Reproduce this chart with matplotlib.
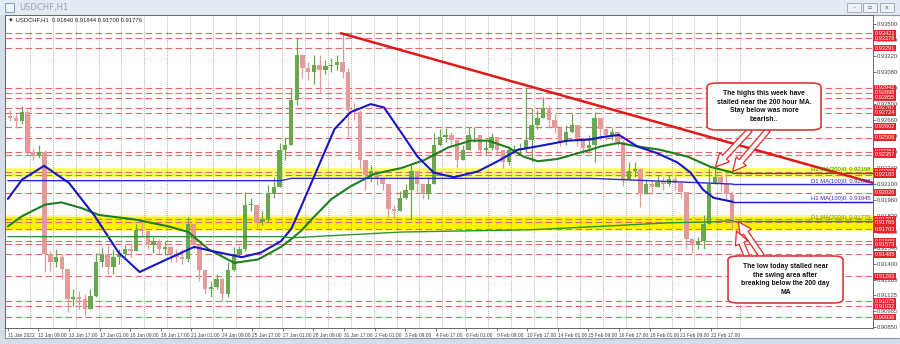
import numpy as np
import matplotlib
matplotlib.use("Agg")
import matplotlib.pyplot as plt
from matplotlib.patches import Rectangle, FancyBboxPatch
from matplotlib import transforms

# USDCHF H1, 11 Jan 2022 - 23 Feb 2022, drawn as one candle per 6 hourly bars
GROUP = 6
first_open = 0.9270
closes = [
    0.9268, 0.9265, 0.9273, 0.9238, 0.9235, 0.9238, 0.9149, 0.9142, 0.9146, 0.9136,
    0.9109, 0.9111, 0.9109, 0.9101, 0.9112, 0.9142, 0.9149, 0.9137, 0.9146, 0.9149,
    0.9153, 0.9151, 0.9170, 0.9169, 0.9157, 0.9160, 0.9153, 0.9155, 0.9149, 0.9146,
    0.9144, 0.9175, 0.9157, 0.9135, 0.9118, 0.9120, 0.9127, 0.9114, 0.9135, 0.9149,
    0.9153, 0.9192, 0.9192, 0.9177, 0.9179, 0.9201, 0.9207, 0.9240, 0.9244, 0.9284,
    0.9323, 0.9312, 0.9308, 0.9314, 0.9310, 0.9313, 0.9314, 0.9317, 0.9308, 0.9275,
    0.9273, 0.9231, 0.9218, 0.9221, 0.9214, 0.9210, 0.9188, 0.9186, 0.9198, 0.9205,
    0.9221, 0.9210, 0.9201, 0.9210, 0.9244, 0.9251, 0.9253, 0.9249, 0.9231, 0.9240,
    0.9253, 0.9253, 0.9240, 0.9242, 0.9251, 0.9240, 0.9229, 0.9240, 0.9240, 0.9242,
    0.9249, 0.9262, 0.9268, 0.9277, 0.9266, 0.9259, 0.9247, 0.9256, 0.9262, 0.9249,
    0.9242, 0.9244, 0.9268, 0.9258, 0.9253, 0.9256, 0.9247, 0.9214, 0.9221, 0.9223,
    0.9201, 0.9210, 0.9207, 0.9212, 0.9210, 0.9214, 0.9211, 0.9203, 0.9162, 0.9157,
    0.9160, 0.9175, 0.9210, 0.9216, 0.9210, 0.9201, 0.91776,
]
highs = [
    0.9275, 0.9271, 0.9278, 0.9275, 0.9242, 0.9244, 0.9240, 0.9151, 0.9153, 0.9149,
    0.9127, 0.9118, 0.9116, 0.9114, 0.9118, 0.9150, 0.9155, 0.9157, 0.9153, 0.9153,
    0.9157, 0.9157, 0.9175, 0.9177, 0.9170, 0.9164, 0.9162, 0.9160, 0.9156, 0.9153,
    0.9153, 0.9181, 0.9175, 0.9157, 0.9135, 0.9125, 0.9131, 0.9128, 0.9142, 0.9155,
    0.9156, 0.9203, 0.9198, 0.9192, 0.9186, 0.9209, 0.9216, 0.9246, 0.9251, 0.9294,
    0.9338, 0.9319, 0.9317, 0.9323, 0.9323, 0.9319, 0.9320, 0.9323, 0.9342, 0.9312,
    0.9281, 0.9275, 0.9231, 0.9227, 0.9221, 0.9216, 0.9210, 0.9192, 0.9204, 0.9210,
    0.9227, 0.9216, 0.9210, 0.9216, 0.9255, 0.9258, 0.9259, 0.9256, 0.9249, 0.9244,
    0.9260, 0.9260, 0.9249, 0.9249, 0.9255, 0.9251, 0.9240, 0.9243, 0.9244, 0.9246,
    0.9295, 0.9277, 0.9275, 0.9286, 0.9279, 0.9271, 0.9258, 0.9262, 0.9272, 0.9262,
    0.9251, 0.9253, 0.9273, 0.9266, 0.9259, 0.9259, 0.9253, 0.9249, 0.9229, 0.9229,
    0.9224, 0.9214, 0.9214, 0.9217, 0.9216, 0.9218, 0.9217, 0.9210, 0.9201, 0.9163,
    0.9164, 0.9183, 0.9224, 0.9223, 0.9218, 0.9221, 0.9204,
]
lows = [
    0.9265, 0.9259, 0.9263, 0.9236, 0.9231, 0.9233, 0.9133, 0.9134, 0.9137, 0.9127,
    0.9098, 0.9103, 0.9101, 0.9095, 0.9105, 0.9111, 0.9137, 0.9131, 0.9131, 0.9140,
    0.9146, 0.9146, 0.9153, 0.9164, 0.9153, 0.9150, 0.9149, 0.9148, 0.9142, 0.9142,
    0.9140, 0.9142, 0.9153, 0.9125, 0.9114, 0.9111, 0.9118, 0.9108, 0.9111, 0.9134,
    0.9146, 0.9151, 0.9186, 0.9172, 0.9174, 0.9177, 0.9198, 0.9207, 0.9231, 0.9244,
    0.9279, 0.9303, 0.9301, 0.9298, 0.9290, 0.9306, 0.9308, 0.9310, 0.9303, 0.9251,
    0.9266, 0.9223, 0.9205, 0.9212, 0.9209, 0.9205, 0.9181, 0.9179, 0.9188, 0.9197,
    0.9179, 0.9203, 0.9197, 0.9197, 0.9210, 0.9243, 0.9247, 0.9243, 0.9225, 0.9231,
    0.9240, 0.9247, 0.9236, 0.9236, 0.9240, 0.9236, 0.9224, 0.9227, 0.9236, 0.9236,
    0.9238, 0.9229, 0.9258, 0.9268, 0.9259, 0.9255, 0.9243, 0.9244, 0.9255, 0.9243,
    0.9236, 0.9237, 0.9229, 0.9249, 0.9249, 0.9249, 0.9243, 0.9208, 0.9214, 0.9216,
    0.9190, 0.9203, 0.9201, 0.9207, 0.9205, 0.9208, 0.9205, 0.9198, 0.9153, 0.9150,
    0.9153, 0.9153, 0.9175, 0.9210, 0.9204, 0.9197, 0.9170,
]

# moving averages (hourly bar index, price)
h1_ma100_bar = [0, 15, 38, 64, 91, 116, 138, 161, 182, 195, 216, 245, 265, 286, 297, 307, 325, 342, 359, 380,
                394, 412, 429, 446, 467, 492, 513, 534, 561, 586, 610, 621, 640, 659, 680, 701, 715, 728, 739, 759]
h1_ma100 = [0.9197, 0.9214, 0.9226, 0.9211, 0.9182, 0.9150, 0.9133, 0.9142, 0.9150, 0.9155,
            0.9151, 0.9146, 0.9150, 0.9160, 0.9171, 0.9190, 0.9225, 0.9258, 0.9273, 0.9280,
            0.9277, 0.9255, 0.9234, 0.9220, 0.9216, 0.9221, 0.9230, 0.9240, 0.9244, 0.9248,
            0.9249, 0.9251, 0.9253, 0.9243, 0.9237, 0.9229, 0.9220, 0.9205, 0.9198, 0.91945]
h1_ma200_bar = [0, 15, 39, 56, 77, 95, 133, 168, 189, 210, 237, 262, 286, 297, 307, 318, 339, 359, 384,
                412, 436, 461, 485, 503, 524, 540, 555, 576, 597, 610, 621, 640, 659, 683, 712, 736, 759]
h1_ma200 = [0.9173, 0.9182, 0.9192, 0.9194, 0.9189, 0.9183, 0.9179, 0.9173, 0.9168, 0.9153,
            0.9141, 0.9144, 0.9155, 0.9162, 0.9169, 0.9179, 0.9197, 0.9208, 0.9219, 0.9224,
            0.9231, 0.9242, 0.9248, 0.9248, 0.9242, 0.9234, 0.9230, 0.9232, 0.9237, 0.9240,
            0.9243, 0.9246, 0.9243, 0.9240, 0.9234, 0.9225, 0.9220]
d1_ma100_bar = [0, 286, 297, 610, 700, 759]
d1_ma100 = [0.9213, 0.9213, 0.9215, 0.9215, 0.9212, 0.9210]
d1_ma200_bar = [0, 286, 297, 412, 548, 621, 690, 740, 759]
d1_ma200 = [0.9164, 0.9164, 0.9163, 0.9168, 0.9170, 0.9173, 0.9176, 0.9177, 0.9178]
ma_tags = ["H1 MA(200)0: 0.92198", "D1 MA(100)0: 0.92098", "H1 MA(100)0: 0.91945", "D1 MA(200)0: 0.91779"]

trend_bar = [349, 906]
trend_price = [0.9342, 0.9211]

levels = [0.93421, 0.93378, 0.93291, 0.92942, 0.92898, 0.92855, 0.92767, 0.92724, 0.92602,
          0.92506, 0.92384, 0.92357, 0.92209, 0.92183, 0.92026, 0.91791, 0.91765, 0.91703,
          0.91599, 0.91573, 0.91485, 0.91293, 0.91075, 0.91032, 0.90936]
upper_zone = (0.9216, 0.9224)
lower_zone = (0.9169, 0.9183)
lower_core = (0.9171, 0.9181)

time_labels = ["11 Jan 2022", "12 Jan 09:00", "13 Jan 17:00", "17 Jan 01:00", "18 Jan 09:00",
               "19 Jan 17:00", "21 Jan 01:00", "24 Jan 09:00", "25 Jan 17:00", "27 Jan 01:00",
               "28 Jan 09:00", "31 Jan 17:00", "2 Feb 01:00", "3 Feb 09:00", "4 Feb 17:00",
               "8 Feb 01:00", "9 Feb 09:00", "10 Feb 17:00", "14 Feb 01:00", "15 Feb 09:00",
               "16 Feb 17:00", "18 Feb 01:00", "21 Feb 09:00", "22 Feb 17:00"]
price_ticks = [0.93500, 0.93360, 0.93220, 0.93080, 0.92940, 0.92800, 0.92660, 0.92520, 0.92380,
               0.92240, 0.92100, 0.91960, 0.91820, 0.91680, 0.91540, 0.91400, 0.91263, 0.91125,
               0.90985, 0.90850]

box_high = "The highs this week have\nstalled near the 200 hour MA.\nStay below was more\nbearish.."
box_low = "The low today stalled near\nthe swing area after\nbreaking below the 200 day\nMA"

RIGHT = 906
W, H = 900.0, 344.0
BULL, BEAR = "#6aa84f", "#e59a9a"
RED = "#e5232b"
SMALL = "Liberation Sans"

fig = plt.figure(figsize=(9, 3.44), dpi=100)
fig.patch.set_facecolor("#d5dde7")

# window chrome (kept behind the axes)
def chrome(xy, w, h, **kw):
    fig.add_artist(Rectangle((xy[0] / W, 1 - xy[1] / H), w / W, h / H,
                             transform=fig.transFigure, zorder=-10, **kw))

chrome((0, 15), 900, 15, fc="#e4eaf2", ec="none")
chrome((5, 338), 895, 323, fc="white", ec="#8c98a6", lw=0.8)
chrome((5, 12), 9, 9, fc="#eef3f9", ec="#7f9bbd", lw=0.7)
fig.text(19 / W, 1 - 7.5 / H, "USDCHF,H1", fontsize=6, color="#98a4b2", va="center")
for bx, sym in [(847, "–"), (863, "▫"), (880, "x")]:
    chrome((bx, 12), 14, 9, fc="#edf1f6", ec="#98a3b0", lw=0.6)
    fig.text((bx + 7) / W, 1 - 7.5 / H, sym, fontsize=4.5, color="#5a6470",
             ha="center", va="center")

ax = fig.add_axes([5 / W, 1 - 328 / H, 868 / W, 313 / H])
ax.set_xlim(-3, RIGHT)
ax.set_ylim(0.9084, 0.9358)
ax.set_facecolor("white")

# support / resistance zones and levels
ax.axhspan(*upper_zone, color="#ffff70", lw=0, zorder=1)
ax.axhspan(*lower_zone, color="#ffff80", lw=0, zorder=1)
ax.axhspan(*lower_core, color="#f8f400", lw=0, zorder=1)
for lv in levels:
    ax.axhline(lv, color="#e36a6a", lw=0.8, dashes=(6, 3), zorder=2)

# daily separators
for d in np.arange(23, 768, 24):
    ax.axvline(d, color="#6a6a6a", lw=0.5, ls=(0, (1, 2)), zorder=1.5)

# candles
c = np.array(closes)
o = np.r_[first_open, c[:-1]]
x = np.arange(len(c)) * GROUP + (GROUP - 1) / 2
hi = np.maximum(highs, np.maximum(o, c))
lo = np.minimum(lows, np.minimum(o, c))
cols = np.where(c >= o, BULL, BEAR)
ax.vlines(x, lo, hi, colors=cols, lw=0.9, zorder=3)
ax.bar(x, np.maximum(np.abs(c - o), 0.00003), bottom=np.minimum(o, c), width=4.6,
       color=cols, lw=0, zorder=3)

# moving averages + right-hand extensions with tags
blend = transforms.blended_transform_factory(ax.transAxes, ax.transData)
ma_sets = [(h1_ma200_bar, h1_ma200, "#1d7f1d", 1.5, "#3c7d10"),
           (d1_ma100_bar, d1_ma100, "#2a2ad0", 1.0, "#2a2ad0"),
           (h1_ma100_bar, h1_ma100, "#1616c8", 1.5, "#2a2ad0"),
           (d1_ma200_bar, d1_ma200, "#2b962b", 1.0, "#6d8c12")]
for (bars, vals, col, lw, tcol), tag in zip(ma_sets, ma_tags):
    ax.plot(bars, vals, color=col, lw=lw, zorder=4, solid_capstyle="round",
            solid_joinstyle="round")
    ax.plot([bars[-1], RIGHT], [vals[-1], vals[-1]], color=col, lw=1.0, zorder=4)
    ax.text(0.997, vals[-1] + 0.00004, tag, transform=blend, fontsize=4.2, color=tcol,
            family=SMALL, ha="right", va="bottom", zorder=6)

# trend line
ax.plot(trend_bar, trend_price, color="#e01818", lw=1.8, zorder=5)

# axes cosmetics
for s in ax.spines.values():
    s.set_color("#505050")
    s.set_linewidth(0.6)
ax.yaxis.tick_right()
ax.set_yticks(price_ticks)
ax.set_yticklabels([f"{p:.5f}" for p in price_ticks], family=SMALL)
ax.tick_params(axis="y", length=2, width=0.5, labelsize=4.2, pad=1, colors="#444444")
ax.set_xticks(np.arange(len(time_labels)) * 32)
ax.set_xticklabels(time_labels, family=SMALL)
ax.tick_params(axis="x", length=2, width=0.5, labelsize=3.5, pad=1.5, colors="#444444")
for lab in ax.get_xticklabels():
    lab.set_ha("left")

# red price labels on the scale
for lv in levels:
    ax.text(1.002, lv, f"{lv:.5f}", transform=blend, fontsize=4.1, color="white",
            family=SMALL, ha="left", va="center", clip_on=False, zorder=10,
            bbox=dict(boxstyle="square,pad=0.15", fc=RED, ec="none"))

ax.text(0.004, 0.992, "▼ USDCHF,H1  0.91840 0.91844 0.91700 0.91776", transform=ax.transAxes,
        fontsize=4.2, color="#222222", family=[SMALL, "DejaVu Sans"], ha="left", va="top",
        zorder=10)

# callout boxes with arrows
def callout(x0, y0, w, h, txt, arrows):
    for tip, tail in arrows:
        ax.annotate("", xy=tip, xycoords="data", xytext=tail, textcoords="axes fraction",
                    arrowprops=dict(arrowstyle="simple,head_length=0.8,head_width=0.8,tail_width=0.32",
                                    fc="white", ec="#e02a2a", lw=0.9, mutation_scale=12,
                                    shrinkA=0, shrinkB=0), zorder=7)
    ax.add_patch(FancyBboxPatch((x0, y0), w, h, transform=ax.transAxes,
                                boxstyle="round,pad=0,rounding_size=0.012",
                                fc="white", ec="#d83a3a", lw=1.2, zorder=8))
    ax.text(x0 + w / 2, y0 + h / 2, txt, transform=ax.transAxes, ha="center", va="center",
            fontsize=4.9, fontweight="bold", family=SMALL, linespacing=1.35,
            color="#111111", zorder=9)

callout(0.8088, 0.6326, 0.1313, 0.1502, box_high,
        [((741, 0.9225), (0.8583, 0.6326)), ((759, 0.9221), (0.8790, 0.6326))])
callout(0.8330, 0.0799, 0.1325, 0.1502, box_low,
        [((765, 0.9177), (0.8721, 0.2290)), ((763, 0.9169), (0.8548, 0.2290))])

fig.savefig("out.png", dpi=100, facecolor=fig.get_facecolor())
